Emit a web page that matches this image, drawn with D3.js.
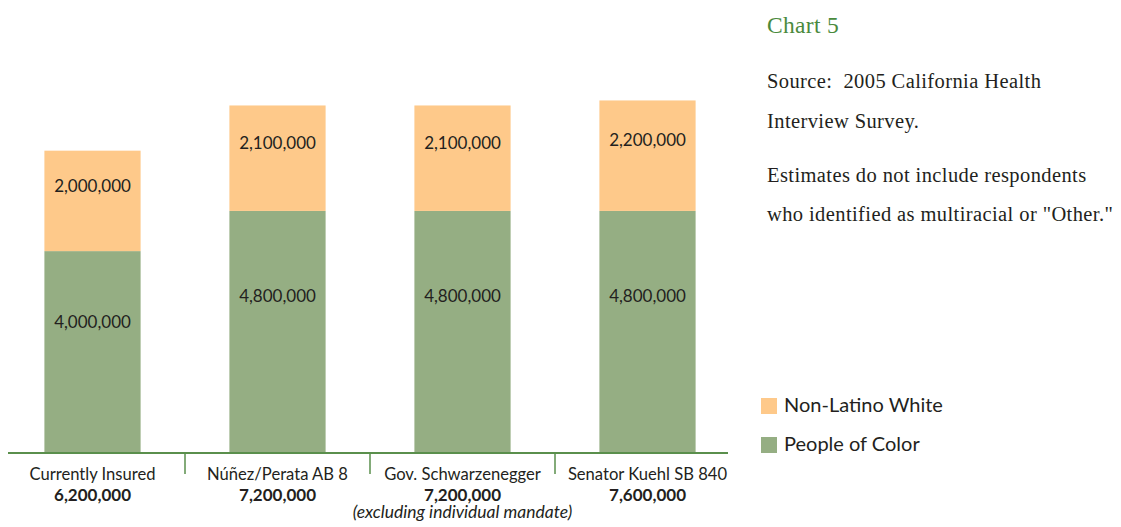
<!DOCTYPE html>
<html>
<head>
<meta charset="utf-8">
<script src="https://cdn.jsdelivr.net/npm/d3@7"></script>
<style>
  html, body { margin: 0; padding: 0; background: #fff; overflow: hidden; }
  svg { display: block; }
  text { font-family: Lato, "Open Sans", sans-serif; fill: #231f20; }
  .note { font-family: "Liberation Serif", serif; white-space: pre; }
</style>
</head>
<body>
<svg width="1121" height="527"></svg>
<script>
const categories = ['Currently Insured', 'Núñez/Perata AB 8', 'Gov. Schwarzenegger', 'Senator Kuehl SB 840'];
const peopleOfColor = [4000000, 4800000, 4800000, 4800000];
const nonLatinoWhite = [2000000, 2100000, 2100000, 2200000];
const totals = [6200000, 7200000, 7200000, 7600000];
const subNotes = ['', '', '(excluding individual mandate)', ''];
const seriesNames = ['People of Color', 'Non-Latino White'];
const colors = ['#95ae83', '#fec98a'];

const svg = d3.select('svg');
const fmt = d3.format(',');

const innerWidth = 740;
const baseY = 452;

const data = categories.map((c, i) => ({
  category: c,
  'People of Color': peopleOfColor[i],
  'Non-Latino White': nonLatinoWhite[i]
}));

const xScale = d3.scaleBand()
  .domain(categories)
  .range([0, innerWidth])
  .paddingInner(0.48)
  .paddingOuter(0.24);

const yScale = d3.scaleLinear()
  .domain([0, 9000000])
  .range([baseY, 0]);

const stacked = d3.stack().keys(seriesNames)(data);

const g = svg.append('g');

// bars
const layers = g.selectAll('g.layer').data(stacked)
  .enter().append('g')
    .attr('class', 'layer')
    .attr('fill', (d, i) => colors[i]);

layers.selectAll('rect').data(d => d)
  .enter().append('rect')
    .attr('x', d => xScale(d.data.category))
    .attr('y', d => yScale(d[1]))
    .attr('width', xScale.bandwidth())
    .attr('height', d => yScale(d[0]) - yScale(d[1]));

// value labels inside segments
layers.selectAll('text').data(d => d)
  .enter().append('text')
    .attr('x', d => xScale(d.data.category) + xScale.bandwidth() / 2)
    .attr('y', d => yScale(d[1]) + (yScale(d[0]) - yScale(d[1])) * 0.35)
    .attr('text-anchor', 'middle')
    .attr('dominant-baseline', 'central')
    .style('font-size', '17px')
    .text(d => fmt(d[1] - d[0]));

// x axis: labels only, own baseline + dividers
const xAxis = d3.axisBottom(xScale).tickSize(0).tickPadding(0);
const xAxisG = g.append('g')
  .attr('transform', `translate(0, ${baseY + 1})`)
  .call(xAxis);
xAxisG.selectAll('.domain').remove();
xAxisG.selectAll('.tick text')
  .attr('y', 27)
  .attr('dy', 0)
  .style('font-size', '16.6px')
  .style('font-family', 'Lato, sans-serif')
  .attr('fill', '#231f20');

const tickG = xAxisG.selectAll('.tick');
tickG.append('text')
  .attr('y', 48)
  .attr('text-anchor', 'middle')
  .style('font-size', '17px')
  .style('font-weight', 'bold')
  .attr('fill', '#231f20')
  .text((d, i) => fmt(totals[i]));
tickG.filter((d, i) => subNotes[i] !== '')
  .append('text')
    .attr('y', 64.5)
    .attr('text-anchor', 'middle')
    .style('font-size', '17.5px')
    .style('font-style', 'italic')
    .attr('fill', '#231f20')
    .text(d => subNotes[categories.indexOf(d)]);

g.append('line')
  .attr('x1', 8).attr('x2', 728)
  .attr('y1', baseY + 1).attr('y2', baseY + 1)
  .attr('stroke', '#5a8f4c')
  .attr('stroke-width', 2);

const step = xScale.step();
g.selectAll('line.divider').data(categories.slice(1))
  .enter().append('line')
    .attr('class', 'divider')
    .attr('x1', d => xScale(d) - step * xScale.paddingInner() / 2)
    .attr('x2', d => xScale(d) - step * xScale.paddingInner() / 2)
    .attr('y1', baseY + 1)
    .attr('y2', baseY + 22)
    .attr('stroke', '#5a8f4c')
    .attr('stroke-width', 1.5);

// right side notes
svg.append('text')
  .attr('class', 'note')
  .attr('x', 767).attr('y', 33)
  .style('font-size', '23.5px')
  .style('letter-spacing', '0.3px')
  .style('fill', '#4a8a3d')
  .text('Chart 5');

const noteLines = [
  ['Source:  2005 California Health', 88],
  ['Interview Survey.', 128],
  ['Estimates do not include respondents', 182],
  ['who identified as multiracial or "Other."', 221]
];
svg.selectAll('text.noteLine').data(noteLines)
  .enter().append('text')
    .attr('class', 'note noteLine')
    .attr('x', 767)
    .attr('y', d => d[1])
    .style('font-size', '20.5px')
    .style('letter-spacing', '0.4px')
    .text(d => d[0]);

// legend
const legend = svg.append('g').attr('transform', 'translate(761, 398)');
const legendItems = legend.selectAll('g').data(seriesNames.slice().reverse())
  .enter().append('g')
    .attr('transform', (d, i) => `translate(0, ${i * 39})`);
legendItems.append('rect')
  .attr('width', 16).attr('height', 16)
  .attr('fill', d => colors[seriesNames.indexOf(d)]);
legendItems.append('text')
  .attr('x', 23).attr('y', 14)
  .style('font-size', '20px')
  .text(d => d);
</script>
</body>
</html>
